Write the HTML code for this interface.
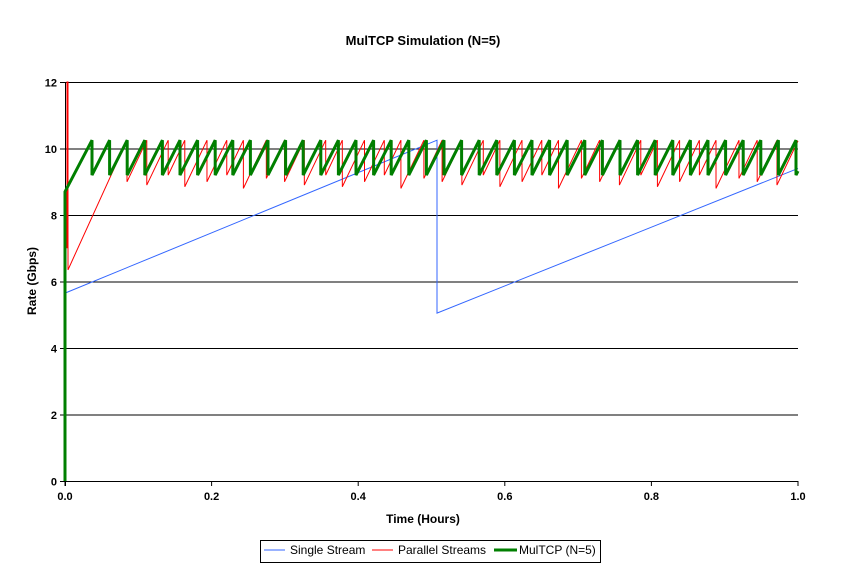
<!DOCTYPE html>
<html><head><style>
html,body{margin:0;padding:0;background:#fff;}
text{font-family:"Liberation Sans",Arial,sans-serif;}
</style></head><body>
<svg id="s" width="847" height="582" xmlns="http://www.w3.org/2000/svg">
<rect width="847" height="582" fill="#fff"/>
<text x="423" y="45" text-anchor="middle" font-size="13" font-weight="bold">MulTCP Simulation (N=5)</text>
<g id="grid" stroke="#000" stroke-width="1"></g>
<g id="lbl" font-size="11" font-weight="bold"></g>
<text x="423" y="523" text-anchor="middle" font-size="12" font-weight="bold">Time (Hours)</text>
<text transform="translate(36,281) rotate(-90)" text-anchor="middle" font-size="12" font-weight="bold">Rate (Gbps)</text>
<g id="series" fill="none"></g>
<rect x="260.5" y="540.5" width="340" height="22" fill="#fff" stroke="#000"/>
<line x1="264" y1="550" x2="285" y2="550" stroke="#3366ff" stroke-width="1"/>
<text x="290" y="554" font-size="12">Single Stream</text>
<line x1="372" y1="550" x2="393" y2="550" stroke="#ff0000" stroke-width="1"/>
<text x="398" y="554" font-size="12">Parallel Streams</text>
<line x1="494" y1="550" x2="517" y2="550" stroke="#007f00" stroke-width="3"/>
<text x="519" y="554" font-size="12">MulTCP (N=5)</text>
</svg>
<script>
var X0=65,X1=798,Y0=481,SC=33.25;
function Y(v){return Y0-v*SC;}
var g=document.getElementById('grid'),l=document.getElementById('lbl'),ns='http://www.w3.org/2000/svg';
function el(p,t,a){var e=document.createElementNS(ns,t);for(var k in a)e.setAttribute(k,a[k]);p.appendChild(e);return e;}
for(var i=0;i<=6;i++){var y=Y(i*2)+0.5;el(g,'line',{x1:X0,y1:y,x2:X1,y2:y});
el(g,'line',{x1:X0-5,y1:y,x2:X0,y2:y});
var t=el(l,'text',{x:57,y:y+4,'text-anchor':'end'});t.textContent=i*2;}
el(g,'line',{x1:X0+0.5,y1:Y(12),x2:X0+0.5,y2:Y0+5});
for(var i=0;i<=5;i++){var x=X0+i*(X1-X0)/5;el(g,'line',{x1:x,y1:Y0,x2:x,y2:Y0+5});
var t=el(l,'text',{x:x,y:500,'text-anchor':'middle'});t.textContent=(i/5).toFixed(1);}
var s=document.getElementById('series');
// blue
el(s,'path',{d:'M65,'+Y(5.65)+' L437,'+Y(10.25)+' L437,'+Y(5.05)+' L798,'+Y(9.4),stroke:'#3366ff','stroke-width':1});
// red
var d='M67,'+Y(7)+' L67,'+Y(12)+' L68,'+Y(12)+' L68,'+Y(6.35)+' L127,'+Y(10.25);
var x=127,tr=[9.0,8.9,9.2,8.85,9.0,9.2,8.8,9.1];var k=0;
while(x<798){var lo=tr[k%tr.length];k++;var p=19*(10.25-lo)/1.2;d+=' L'+x+','+Y(lo);var nx=Math.min(x+p,798);var v=lo+(nx-x)/p*(10.25-lo);d+=' L'+nx.toFixed(1)+','+Y(v);x=nx;}
el(s,'path',{d:d,stroke:'#ff0000','stroke-width':1});
// green
var d='M65,'+Y0+' L65,'+Y(8.7)+' L92,'+Y(10.25);x=92;var p=17.6;
while(x<798){d+=' L'+x.toFixed(1)+','+Y(9.2);var nx=Math.min(x+p,798);var v=9.2+(nx-x)/p*1.05;d+=' L'+nx.toFixed(1)+','+Y(v);x=nx;}
el(s,'path',{d:d,stroke:'#007f00','stroke-width':3,'stroke-linejoin':'miter'});
</script>
</body></html>
